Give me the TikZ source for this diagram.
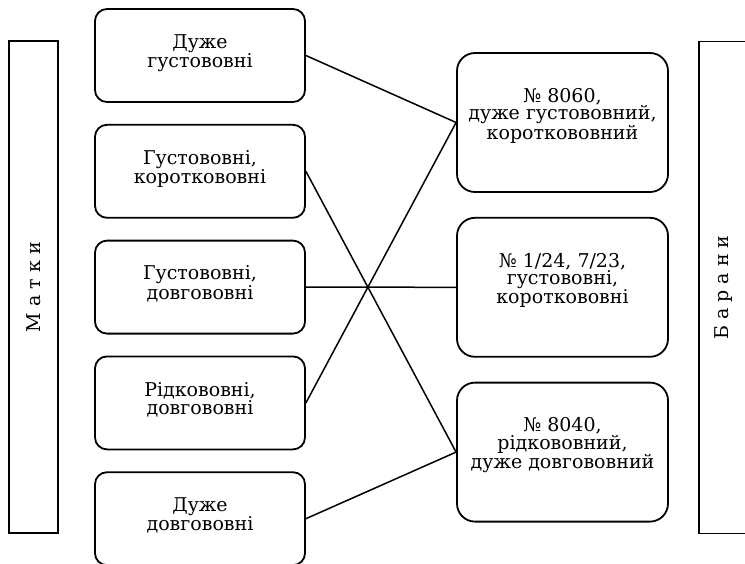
\documentclass[tikz,border=0pt]{standalone}
\usepackage{fontspec}
\setmainfont{DejaVu Serif}
\usetikzlibrary{positioning}
\tikzset{
    mynodel/.style = {rectangle, rounded corners=12pt, line width=1.8pt, draw=black, align=center, minimum width=210pt, minimum height=93pt, font=\fontsize{19}{17.5}\selectfont, text=black, text depth=9pt},
    mynoder/.style = {rectangle, rounded corners=18pt, line width=1.8pt, draw=black, align=center, minimum width=211pt, minimum height=139pt, font=\fontsize{19}{17.5}\selectfont, text=black, text depth=18pt},
    sidebox/.style = {rectangle, line width=1.6pt, draw=black, rotate=90, minimum width=492pt, minimum height=49pt, font=\fontsize{19}{17.5}\selectfont},
    edgen/.style = {-, line width=1.5pt, black}
}

\begin{document}
\begin{tikzpicture}[x=1pt, y=-1pt]
  \useasboundingbox (0,0) rectangle (745,563);

  % side frames
  \node[sidebox] (matky) at (33.5,287) {М а т к и};
  \node[sidebox] (barany) at (723.5,287.5) {Б а р а н и};

  % ewes
  \node[mynodel] (l1) at (200,55.5) {Дуже\\густововні};
  \node[mynodel, below=21pt of l1] (l2) {Густововні,\\короткововні};
  \node[mynodel, below=21pt of l2] (l3) {Густововні,\\довгововні};
  \node[mynodel, below=21pt of l3] (l4) {Рідкововні,\\довгововні};
  \node[mynodel, below=21pt of l4] (l5) {Дуже\\довгововні};

  % rams
  \node[mynoder] (r1) at (562.5,122.5) {№ 8060,\\дуже густововний,\\короткововний};
  \node[mynoder, below=24pt of r1] (r2) {№ 1/24, 7/23,\\густововні,\\короткововні};
  \node[mynoder, below=24pt of r2] (r3) {№ 8040,\\рідкововний,\\дуже довгововний};

  \draw[edgen] (l1.east) -- (r1.west);
  \draw[edgen] (l2.east) -- (r3.west);
  \draw[edgen] (l3.east) -- (r2.west);
  \draw[edgen] (l4.east) -- (r1.west);
  \draw[edgen] (l5.east) -- (r3.west);
\end{tikzpicture}
\end{document}
